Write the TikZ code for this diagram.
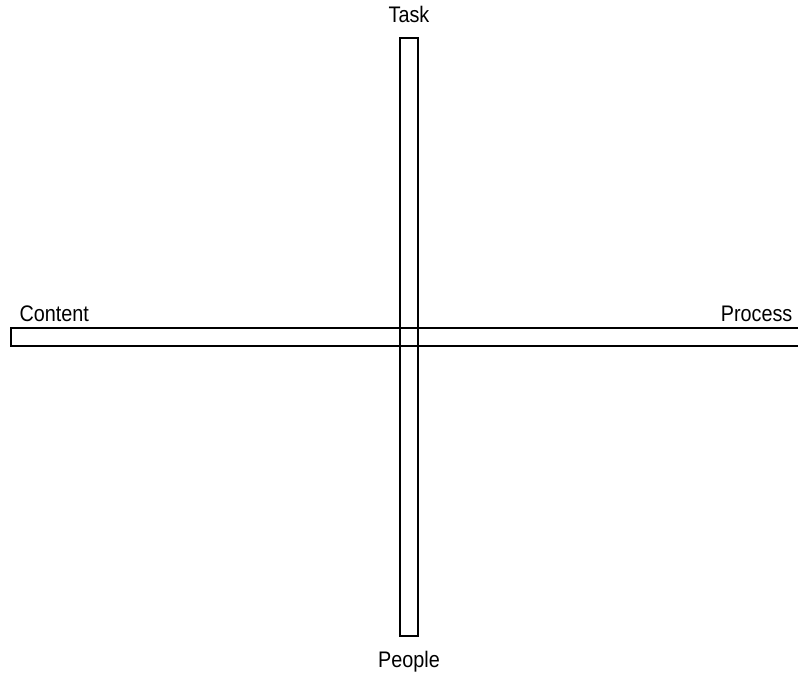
\documentclass[tikz,border=0pt]{standalone}
\usepackage{fontspec}
\setmainfont[FakeStretch=0.88]{Liberation Sans}
\usetikzlibrary{positioning}

\begin{document}
\begin{tikzpicture}[x=1pt,y=1pt,
	bar/.style={draw,line width=1.1pt,rectangle,inner sep=0pt},
	axislabel/.style={inner sep=0pt,font=\fontsize{22.5}{27}\selectfont}]
	\useasboundingbox (0,0) rectangle (798,674);
	\node[bar,minimum width=18pt,minimum height=598pt] (vbar) at (409,337) {};
	\node[bar,minimum width=790pt,minimum height=18pt] (hbar) at (406,337) {};
	\node[axislabel,anchor=base] (task) at ([yshift=15pt]vbar.north) {Task};
	\node[axislabel,anchor=base] (people) at ([yshift=-31pt]vbar.south) {People};
	\node[axislabel,anchor=base west] (content) at ([xshift=9pt,yshift=6pt]hbar.north west) {Content};
	\node[axislabel,anchor=base east] (process) at ([xshift=-9pt,yshift=6pt]hbar.north east) {Process};
\end{tikzpicture}
\end{document}
